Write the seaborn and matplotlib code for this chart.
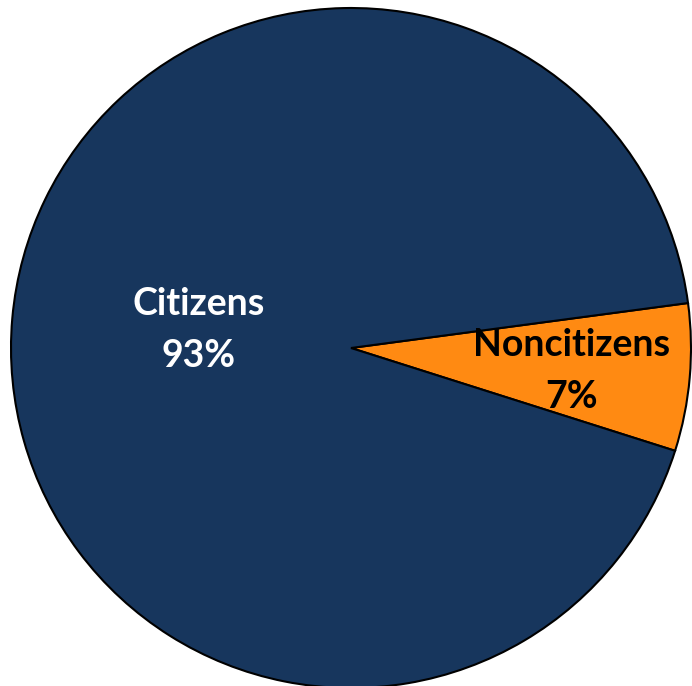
import matplotlib
matplotlib.use("Agg")
import matplotlib.pyplot as plt
import seaborn as sns

categories = ["Noncitizens", "Citizens"]
shares = [7, 93]
pct_labels = ["7%", "93%"]

sns.set_theme(style="white")
plt.rcParams['font.family'] = ['Lato', 'DejaVu Sans']

colors = ["#FF8A12", "#17365D"]
text_colors = ["black", "white"]

W, H = 692, 686
fig = plt.figure(figsize=(W / 100, H / 100), dpi=100)
cx, cy, r = 351, 348, 340
ax = fig.add_axes([(cx - r) / W, (H - cy - r) / H, 2 * r / W, 2 * r / H])

start = -17.6
wedges, _ = ax.pie(shares, colors=colors, startangle=start, counterclock=True,
                   radius=1, wedgeprops=dict(edgecolor="black", linewidth=1.5))
ax.set_xlim(-1, 1)
ax.set_ylim(-1, 1)
ax.set_aspect("equal")
ax.axis("off")

positions = [(0.65, -0.068), (-0.447, 0.053)]
for (x, y), cat, pct, tc in zip(positions, categories, pct_labels, text_colors):
    ax.text(x, y, f"{cat}\n{pct}", ha="center", va="center", color=tc,
            fontsize=27, fontweight="bold", linespacing=1.65)

fig.savefig("out.png", dpi=100, facecolor="white")
